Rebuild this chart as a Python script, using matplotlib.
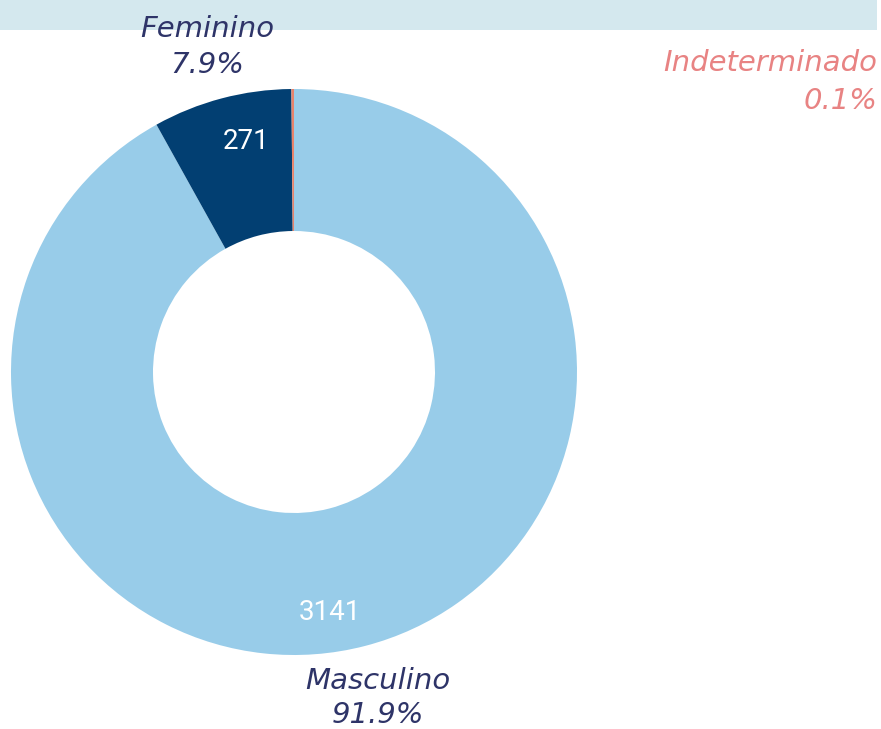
import matplotlib
matplotlib.use("Agg")
import matplotlib.pyplot as plt
from matplotlib.patches import Rectangle

categories = ["Masculino", "Feminino", "Indeterminado"]
values = [3141, 271, 5]
percent_labels = ["91.9%", "7.9%", "0.1%"]
colors = ["#98cce9", "#023f72", "#e8836b"]
label_colors = ["#2e3468", "#2e3468", "#e88383"]

W, H = 881, 729
fig = plt.figure(figsize=(W / 100, H / 100), dpi=100)
ax = fig.add_axes([0, 0, 1, 1])

# top band
ax.add_patch(Rectangle((0, H - 30), 877, 30, facecolor="#d4e8ee", edgecolor="none", zorder=0))

cx, cy, R = 294, H - 372, 283
wedges, _ = ax.pie(values, colors=colors, startangle=90, counterclock=False,
                   radius=R, center=(cx, cy), frame=True,
                   wedgeprops=dict(width=R - 141, edgecolor="none", linewidth=0))
ax.set_xlim(0, W)
ax.set_ylim(0, H)
ax.set_aspect("equal")
ax.axis("off")

# value labels inside
ax.text(246, H - 141, str(values[1]), color="white", fontsize=20, family="Roboto",
        ha="center", va="center")
ax.text(330, H - 612, str(values[0]), color="white", fontsize=20, family="Roboto",
        ha="center", va="center")

# category labels
font = dict(family="DejaVu Sans", style="oblique", fontsize=21)
ax.text(207, H - 29, categories[1], color=label_colors[1], ha="center", va="center", **font)
ax.text(207, H - 65, percent_labels[1], color=label_colors[1], ha="center", va="center", **font)
ax.text(378, H - 681, categories[0], color=label_colors[0], ha="center", va="center", **font)
ax.text(378, H - 715, percent_labels[0], color=label_colors[0], ha="center", va="center", **font)
ax.text(877, H - 63, categories[2], color=label_colors[2], ha="right", va="center", **font)
ax.text(877, H - 101, percent_labels[2], color=label_colors[2], ha="right", va="center", **font)

fig.savefig("out.png", dpi=100)
